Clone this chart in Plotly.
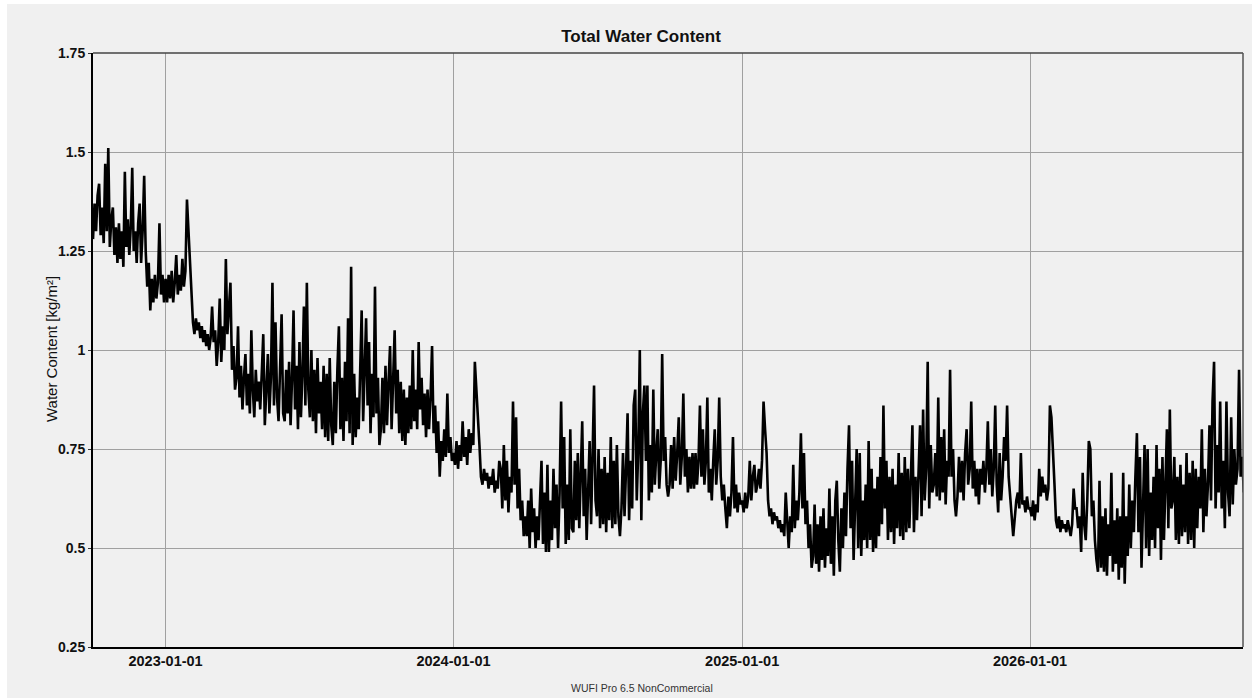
import pandas as pd
import plotly.graph_objects as go

# Total water content [kg/m²], one inner list per month (samples evenly spread in the month)
wc_2022 = [  # Oct, Nov, Dec
    [1.28, 1.37, 1.30, 1.39, 1.42, 1.29, 1.36, 1.27, 1.47, 1.30, 1.51, 1.26, 1.33, 1.36, 1.24, 1.31],
    [1.22, 1.32, 1.23, 1.30, 1.21, 1.45, 1.26, 1.33, 1.24, 1.31, 1.46, 1.25, 1.30, 1.22, 1.32, 1.37],
    [1.22, 1.30, 1.44, 1.25, 1.16, 1.22, 1.10, 1.18, 1.12, 1.19, 1.13, 1.17, 1.32, 1.14, 1.19, 1.12],
]
wc_2023 = [
    [1.18, 1.12, 1.19, 1.13, 1.20, 1.12, 1.17, 1.24, 1.14, 1.19, 1.15, 1.23, 1.16, 1.20, 1.38, 1.30],
    [1.22, 1.12, 1.07, 1.04, 1.08, 1.05, 1.07, 1.03, 1.06, 1.02, 1.05, 1.01, 1.04, 1.00, 1.03],
    [1.11, 1.02, 1.05, 0.96, 1.02, 1.13, 0.97, 1.06, 1.00, 1.23, 1.04, 1.10, 1.17, 0.95, 1.01, 0.90],
    [0.93, 1.06, 0.88, 0.96, 0.85, 0.93, 0.99, 0.86, 0.94, 0.84, 1.05, 0.90, 0.83, 0.95, 0.87, 0.92],
    [0.85, 0.94, 1.04, 0.81, 0.92, 0.99, 0.84, 0.93, 1.17, 0.86, 1.07, 0.88, 0.82, 0.95, 1.09, 0.84],
    [0.82, 0.95, 0.84, 0.97, 0.81, 0.93, 1.10, 0.85, 0.96, 0.80, 1.02, 0.83, 0.94, 1.11, 0.86, 1.17],
    [0.90, 0.83, 1.00, 0.82, 0.95, 0.79, 0.98, 0.84, 0.92, 0.80, 0.96, 0.78, 0.94, 0.77, 0.98, 0.81],
    [0.76, 0.92, 0.79, 0.95, 1.06, 0.80, 0.93, 0.77, 0.97, 0.82, 1.08, 0.79, 1.21, 0.76, 0.94, 0.78],
    [0.88, 0.80, 0.95, 1.10, 0.82, 0.93, 1.08, 0.86, 1.02, 0.79, 0.94, 0.83, 1.16, 0.84, 0.93, 0.76],
    [0.80, 0.93, 0.79, 0.96, 0.81, 0.92, 1.01, 0.80, 0.94, 1.05, 0.84, 0.95, 0.79, 0.92, 0.77, 0.90],
    [0.76, 0.88, 0.79, 0.91, 0.80, 1.00, 0.82, 0.90, 0.80, 1.02, 0.85, 0.93, 0.81, 0.89, 0.78, 0.90],
    [0.80, 0.88, 1.01, 0.79, 0.86, 0.74, 0.82, 0.68, 0.77, 0.72, 0.80, 0.73, 0.89, 0.74, 0.78, 0.72],
]
wc_2024 = [
    [0.74, 0.71, 0.77, 0.70, 0.76, 0.72, 0.82, 0.73, 0.78, 0.71, 0.80, 0.74, 0.79, 0.76, 0.97, 0.90],
    [0.86, 0.76, 0.68, 0.66, 0.70, 0.67, 0.69, 0.65, 0.68, 0.66, 0.70, 0.64, 0.67, 0.65, 0.72],
    [0.70, 0.60, 0.76, 0.62, 0.72, 0.59, 0.68, 0.64, 0.87, 0.66, 0.83, 0.60, 0.70, 0.57, 0.62, 0.53],
    [0.58, 0.53, 0.62, 0.50, 0.65, 0.54, 0.60, 0.50, 0.58, 0.52, 0.62, 0.72, 0.51, 0.64, 0.49, 0.71],
    [0.49, 0.62, 0.52, 0.70, 0.55, 0.66, 0.50, 0.64, 0.87, 0.60, 0.78, 0.51, 0.66, 0.52, 0.80, 0.55],
    [0.54, 0.72, 0.57, 0.74, 0.55, 0.68, 0.82, 0.58, 0.70, 0.52, 0.66, 0.77, 0.56, 0.72, 0.91, 0.62],
    [0.58, 0.75, 0.55, 0.70, 0.56, 0.73, 0.54, 0.69, 0.57, 0.78, 0.55, 0.72, 0.56, 0.76, 0.58, 0.53],
    [0.60, 0.74, 0.58, 0.70, 0.84, 0.57, 0.72, 0.60, 0.86, 0.90, 0.62, 0.75, 1.00, 0.57, 0.84, 0.91],
    [0.72, 0.91, 0.62, 0.76, 0.64, 0.90, 0.66, 0.74, 0.80, 0.65, 0.72, 0.99, 0.72, 0.78, 0.66, 0.63],
    [0.66, 0.76, 0.65, 0.78, 0.67, 0.74, 0.83, 0.66, 0.73, 0.89, 0.68, 0.75, 0.64, 0.73, 0.65, 0.74],
    [0.65, 0.74, 0.66, 0.72, 0.86, 0.68, 0.80, 0.66, 0.72, 0.88, 0.64, 0.70, 0.62, 0.72, 0.80, 0.66],
    [0.72, 0.88, 0.68, 0.62, 0.66, 0.60, 0.55, 0.63, 0.58, 0.64, 0.78, 0.60, 0.66, 0.59, 0.64, 0.61],
]
wc_2025 = [
    [0.62, 0.59, 0.64, 0.60, 0.63, 0.72, 0.62, 0.68, 0.71, 0.64, 0.66, 0.70, 0.65, 0.72, 0.87, 0.80],
    [0.74, 0.62, 0.58, 0.60, 0.56, 0.59, 0.57, 0.58, 0.55, 0.57, 0.54, 0.56, 0.53, 0.64, 0.55],
    [0.50, 0.58, 0.54, 0.71, 0.55, 0.62, 0.57, 0.64, 0.79, 0.60, 0.74, 0.56, 0.62, 0.50, 0.56, 0.45],
    [0.48, 0.61, 0.46, 0.56, 0.44, 0.58, 0.47, 0.60, 0.45, 0.55, 0.48, 0.65, 0.46, 0.58, 0.43, 0.62],
    [0.67, 0.52, 0.44, 0.60, 0.50, 0.64, 0.53, 0.70, 0.81, 0.55, 0.72, 0.47, 0.62, 0.75, 0.50, 0.74],
    [0.48, 0.62, 0.52, 0.66, 0.50, 0.77, 0.52, 0.70, 0.49, 0.65, 0.50, 0.68, 0.53, 0.73, 0.56, 0.86],
    [0.60, 0.72, 0.52, 0.68, 0.54, 0.70, 0.51, 0.66, 0.55, 0.74, 0.53, 0.69, 0.52, 0.73, 0.54, 0.70],
    [0.55, 0.70, 0.81, 0.54, 0.68, 0.57, 0.72, 0.81, 0.58, 0.85, 0.62, 0.70, 0.97, 0.60, 0.76, 0.64],
    [0.66, 0.74, 0.63, 0.88, 0.62, 0.78, 0.64, 0.80, 0.61, 0.72, 0.68, 0.95, 0.68, 0.75, 0.62, 0.58],
    [0.63, 0.73, 0.64, 0.72, 0.62, 0.74, 0.80, 0.66, 0.70, 0.87, 0.65, 0.72, 0.63, 0.70, 0.61, 0.70],
    [0.66, 0.72, 0.64, 0.70, 0.82, 0.66, 0.75, 0.63, 0.70, 0.86, 0.66, 0.59, 0.74, 0.62, 0.68, 0.78],
    [0.72, 0.86, 0.68, 0.62, 0.58, 0.53, 0.57, 0.62, 0.64, 0.60, 0.74, 0.61, 0.62, 0.59, 0.63, 0.60],
]
wc_2026 = [  # Jan .. Sep
    [0.60, 0.58, 0.62, 0.57, 0.61, 0.59, 0.70, 0.63, 0.68, 0.64, 0.66, 0.62, 0.65, 0.86, 0.83, 0.72],
    [0.66, 0.57, 0.55, 0.58, 0.54, 0.57, 0.55, 0.56, 0.54, 0.57, 0.55, 0.53, 0.56, 0.65, 0.60],
    [0.60, 0.55, 0.58, 0.49, 0.69, 0.56, 0.52, 0.62, 0.77, 0.75, 0.58, 0.62, 0.52, 0.47, 0.44, 0.67],
    [0.45, 0.58, 0.44, 0.60, 0.43, 0.56, 0.48, 0.69, 0.44, 0.57, 0.46, 0.60, 0.42, 0.58, 0.45, 0.69],
    [0.41, 0.58, 0.48, 0.66, 0.50, 0.62, 0.54, 0.68, 0.79, 0.54, 0.73, 0.45, 0.62, 0.76, 0.50, 0.75],
    [0.48, 0.64, 0.52, 0.68, 0.50, 0.76, 0.55, 0.70, 0.47, 0.73, 0.52, 0.67, 0.80, 0.55, 0.85, 0.60],
    [0.62, 0.73, 0.52, 0.68, 0.51, 0.71, 0.53, 0.66, 0.54, 0.74, 0.51, 0.69, 0.52, 0.72, 0.50, 0.70],
    [0.55, 0.68, 0.60, 0.80, 0.54, 0.70, 0.58, 0.66, 0.81, 0.62, 0.87, 0.97, 0.60, 0.76, 0.64, 0.87],
    [0.60, 0.72, 0.55, 0.87, 0.64, 0.58, 0.83, 0.61, 0.75, 0.66, 0.70, 0.95, 0.68, 0.73, 0.64],
]

first_month = "2022-10-01"
x_range = ["2022-10-01", "2026-09-28"]
x_tick_vals = ["2023-01-01", "2024-01-01", "2025-01-01", "2026-01-01"]
x_tick_text = ["2023-01-01", "2024-01-01", "2025-01-01", "2026-01-01"]
y_tick_vals = [0.25, 0.5, 0.75, 1.0, 1.25, 1.5, 1.75]
y_tick_text = ["0.25", "0.5", "0.75", "1", "1.25", "1.5", "1.75"]

# build time stamps: samples of each month spread evenly across that month
months = wc_2022 + wc_2023 + wc_2024 + wc_2025 + wc_2026
starts = pd.date_range(first_month, periods=len(months) + 1, freq="MS")
times, values = [], []
for k, vals in enumerate(months):
    s, e = starts[k], starts[k + 1]
    for i, v in enumerate(vals):
        times.append(s + (e - s) * (i / len(vals)))
        values.append(v)

W, H = 1252, 698
L, R, T, B = 93, 9, 53, 51
pw, ph = W - L - R, H - T - B

def px(xp):
    return (xp - L) / pw

def py(yp):
    return (H - B - yp) / ph

fig = go.Figure()
fig.add_trace(go.Scatter(x=times, y=values, mode="lines",
                         line=dict(color="black", width=2.6), showlegend=False))

tick_font = dict(family="Liberation Sans, Arial, sans-serif", size=14, color="#111111")

fig.update_layout(
    width=W, height=H,
    margin=dict(l=L, r=R, t=T, b=B),
    paper_bgcolor="white",
    plot_bgcolor="#f0f0f0",
    title=dict(text="<b>Total Water Content</b>", x=641 / W, xref="container", xanchor="center",
               y=1 - 36 / H, yref="container", yanchor="middle",
               font=dict(family="Liberation Sans, Arial, sans-serif", size=17, color="#111111")),
    xaxis=dict(type="date", range=x_range, tickvals=x_tick_vals, ticktext=["<b>%s</b>" % t for t in x_tick_text],
               showgrid=True, gridcolor="#a0a0a0", gridwidth=1,
               showline=True, linecolor="black", linewidth=2, ticks="", zeroline=False,
               tickfont=dict(family="Liberation Sans, Arial, sans-serif", size=14.5, color="#111111")),
    yaxis=dict(range=[0.25, 1.75], tickvals=y_tick_vals, ticktext=["<b>%s</b>" % t for t in y_tick_text],
               showgrid=True, gridcolor="#a0a0a0", gridwidth=1,
               showline=True, linecolor="black", linewidth=2, ticks="outside", ticklen=3,
               tickcolor="#333333", zeroline=False, tickfont=tick_font),
    shapes=[
        dict(type="rect", xref="paper", yref="paper", x0=px(7), x1=px(W + 2), y0=py(H + 2), y1=py(4),
             fillcolor="#f0f0f0", line=dict(width=0), layer="below"),
        dict(type="line", xref="paper", yref="paper", x0=0, x1=1, y0=1, y1=1,
             line=dict(color="#444444", width=1.5), layer="above"),
        dict(type="line", xref="paper", yref="paper", x0=1, x1=1, y0=0, y1=1,
             line=dict(color="#555555", width=1.5), layer="above"),
    ],
    annotations=[
        dict(text="Water Content [kg/m²]", xref="paper", yref="paper", x=px(51), y=py(349),
             textangle=-90, showarrow=False, xanchor="center", yanchor="middle",
             font=dict(family="Liberation Sans, Arial, sans-serif", size=15, color="#111111")),
        dict(text="WUFI Pro 6.5 NonCommercial", xref="paper", yref="paper", x=px(642), y=py(688),
             showarrow=False, xanchor="center", yanchor="middle",
             font=dict(family="Liberation Sans, Arial, sans-serif", size=10.5, color="#333333")),
    ],
)

fig.write_html("out.html", config={"displayModeBar": False},
               post_script="document.body.style.margin='0px';document.body.style.overflow='hidden';")
